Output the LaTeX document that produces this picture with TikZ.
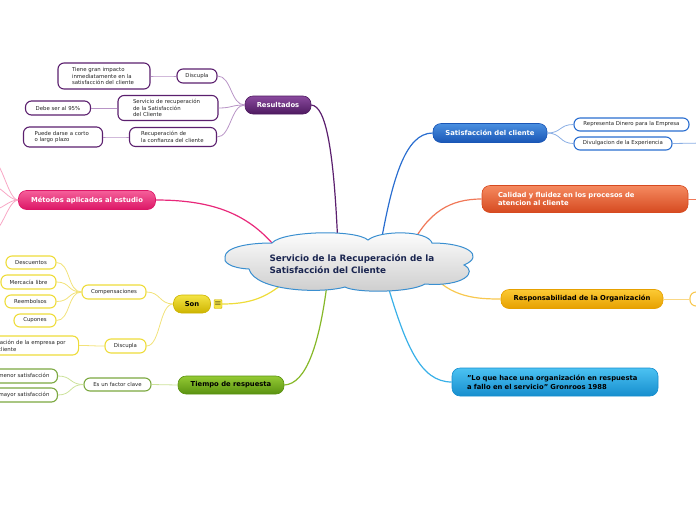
\documentclass[tikz,border=0pt]{standalone}
\usepackage{fontspec}
\setmainfont{DejaVu Sans}
\usetikzlibrary{positioning}

\definecolor{resA}{HTML}{8A4A9E}
\definecolor{resB}{HTML}{4E1A60}
\definecolor{resL}{HTML}{5B1F6E}
\definecolor{resS}{HTML}{B894C6}
\definecolor{metA}{HTML}{F5609A}
\definecolor{metB}{HTML}{DC1666}
\definecolor{metL}{HTML}{E8287A}
\definecolor{metS}{HTML}{F8A6C4}
\definecolor{sonA}{HTML}{F4E445}
\definecolor{sonB}{HTML}{CDB400}
\definecolor{sonL}{HTML}{EEDC3A}
\definecolor{sonS}{HTML}{F2E27A}
\definecolor{tieA}{HTML}{94CA34}
\definecolor{tieB}{HTML}{5A9210}
\definecolor{tieL}{HTML}{86B828}
\definecolor{tieS}{HTML}{CCE29A}
\definecolor{satA}{HTML}{4A90E0}
\definecolor{satB}{HTML}{1A56B6}
\definecolor{satL}{HTML}{2A6ED0}
\definecolor{satS}{HTML}{8AAEE4}
\definecolor{calA}{HTML}{F58A60}
\definecolor{calB}{HTML}{D64A20}
\definecolor{calL}{HTML}{F07858}
\definecolor{rspA}{HTML}{FCCA34}
\definecolor{rspB}{HTML}{E6A000}
\definecolor{rspL}{HTML}{F8C850}
\definecolor{quoA}{HTML}{4CC2F2}
\definecolor{quoB}{HTML}{168ECE}
\definecolor{quoL}{HTML}{38B0E8}
\definecolor{nube}{HTML}{3A8FD0}
\definecolor{tinta}{HTML}{1A2550}

\tikzset{
  tema/.style={rounded corners=8pt, inner xsep=0pt, inner ysep=0pt, line width=0.6pt,
    font=\fontsize{6.8}{8.8}\selectfont\bfseries, text=white},
  hoja/.style={draw, fill=white, rounded corners=6pt, line width=1.1pt, inner xsep=0pt,
    inner ysep=0pt, font=\fontsize{5.4}{6.8}\selectfont, text=black!85},
  linea/.style={line width=1.2pt},
  sublinea/.style={line width=0.8pt}
}

\newcommand{\rama}[3]{\draw[sublinea, #1] (#2.west) .. controls +(-14,0) and +(14,0) .. (#3.east);}
\newcommand{\ramader}[3]{\draw[sublinea, #1] (#2.east) .. controls +(14,0) and +(-14,0) .. (#3.west);}

\begin{document}
\begin{tikzpicture}[x=1pt, y=-1pt]
\useasboundingbox (0,0) rectangle (696,520);

% temas principales
\node[tema, minimum width=66pt, minimum height=18pt, top color=resA, bottom color=resB, draw=resB] (resultados) at (278,105) {Resultados};
\node[tema, minimum width=137pt, minimum height=19pt, top color=metA, bottom color=metB, draw=metB] (metodos) at (87,200) {Métodos aplicados al estudio};
\node[tema, minimum width=37pt, minimum height=18pt, top color=sonA, bottom color=sonB, draw=sonB, text=black] (son) at (192,304) {Son};
\node[draw=sonB, fill=sonA, minimum width=8pt, minimum height=9pt, inner sep=0pt, rounded corners=1pt, font=\fontsize{8}{8}\selectfont] (sonmenu) at (218,304) {$\equiv$};
\node[tema, minimum width=106pt, minimum height=18pt, top color=tieA, bottom color=tieB, draw=tieB, text=black] (tiempo) at (231,385) {Tiempo de respuesta};
\node[tema, minimum width=114pt, minimum height=19pt, top color=satA, bottom color=satB, draw=satB] (satisf) at (490,133) {Satisfacción del cliente};
\node[tema, minimum width=206pt, minimum height=27pt, text width=174pt, align=left, top color=calA, bottom color=calB, draw=calB] (calidad) at (585,199) {Calidad y fluidez en los procesos de\\atencion al cliente};
\node[tema, minimum width=162pt, minimum height=19pt, top color=rspA, bottom color=rspB, draw=rspB, text=black] (respons) at (582,299) {Responsabilidad de la Organización};
\node[tema, minimum width=206pt, minimum height=28pt, text width=176pt, align=left, top color=quoA, bottom color=quoB, draw=quoB, text=black] (gronroos) at (555,382) {"Lo que hace una organización en respuesta\\a fallo en el servicio" Gronroos 1988};

% Resultados
\node[hoja, draw=resL, minimum width=40pt, minimum height=14pt] (discRes) at (197,76) {Discupla};
\node[hoja, draw=resL, minimum width=100pt, minimum height=25pt, text width=70pt, align=left] (servRec) at (168,108) {Servicio de recuperación\\de la Satisfacción\\del Cliente};
\node[hoja, draw=resL, minimum width=87pt, minimum height=19pt, text width=64pt, align=left] (recConf) at (173,137) {Recuperación de\\la confianza del cliente};
\node[hoja, draw=resL, minimum width=92pt, minimum height=26pt, text width=64pt, align=left] (impacto) at (104,76) {Tiene gran impacto\\inmediatamente en la\\satisfacción del cliente};
\node[hoja, draw=resL, minimum width=65pt, minimum height=14pt] (porc) at (58,108) {Debe ser al 95\%};
\node[hoja, draw=resL, minimum width=79pt, minimum height=20pt, text width=57pt, align=left] (plazo) at (63,137) {Puede darse a corto\\o largo plazo};

% Son
\node[hoja, draw=sonL, minimum width=64pt, minimum height=14pt] (compens) at (114,292) {Compensaciones};
\node[hoja, draw=sonL, minimum width=41pt, minimum height=14pt] (discSon) at (125.5,346) {Discupla};
\node[hoja, draw=sonL, minimum width=50pt, minimum height=13pt] (descuentos) at (31,262.5) {Descuentos};
\node[hoja, draw=sonL, minimum width=55pt, minimum height=14pt] (mercancia) at (28.5,282) {Mercacía libre};
\node[hoja, draw=sonL, minimum width=51pt, minimum height=13pt] (reembolsos) at (30.5,301.5) {Reembolsos};
\node[hoja, draw=sonL, minimum width=42pt, minimum height=13pt] (cupones) at (35,320.5) {Cupones};
\node[hoja, draw=sonL, minimum height=19pt, inner xsep=6pt, text width=81pt, align=left, anchor=west] (relacion) at (-15,345.5) {Relación de la empresa por\\el cliente};

% Tiempo de respuesta
\node[hoja, draw=tieB!80, minimum width=67pt, minimum height=13pt] (factor) at (117.5,384.5) {Es un factor clave};
\node[hoja, draw=tieB!80, minimum height=14pt, inner xsep=8pt, anchor=east] (menor) at (58,376) {A mayor tiempo, menor satisfacción};
\node[hoja, draw=tieB!80, minimum height=14pt, inner xsep=8pt, anchor=east] (mayor) at (58,395) {A menor tiempo, mayor satisfacción};

% Satisfaccion del cliente
\node[hoja, draw=satL, minimum width=115pt, minimum height=13pt] (dinero) at (631.5,124.5) {Representa Dinero para la Empresa};
\node[hoja, draw=satL, minimum width=98pt, minimum height=13pt] (divulg) at (623,143.5) {Divulgacion de la Experiencia};

% ramas que salen del dibujo
\node[hoja, draw=rspL, minimum width=16pt, minimum height=14pt] (rspHijo) at (698,299) {};
\coordinate (divSig) at (705,143);
\coordinate (calSig) at (705,199);
\coordinate (met1) at (-8,160);
\coordinate (met2) at (-8,186);
\coordinate (met3) at (-8,210);
\coordinate (met4) at (-8,232);

% puntos dentro de la nube
\coordinate (cRes) at (338,248);
\coordinate (cMet) at (278,250);
\coordinate (cSon) at (292,276);
\coordinate (cTie) at (328,276);
\coordinate (cSat) at (380,248);
\coordinate (cCal) at (410,248);
\coordinate (cRsp) at (430,272);
\coordinate (cQuo) at (385,276);

% conectores principales
\draw[linea, resL] (resultados.east) .. controls (326,106) and (334,150) .. (cRes);
\draw[linea, metL] (metodos.east) .. controls (215,200) and (250,215) .. (cMet);
\draw[linea, sonL] (sonmenu.east) .. controls (258,304) and (272,293) .. (cSon);
\draw[linea, tieL] (tiempo.east) .. controls (306,384) and (320,345) .. (cTie);
\draw[linea, satL] (satisf.west) .. controls (405,133) and (392,180) .. (cSat);
\draw[linea, calL] (calidad.west) .. controls (450,199) and (428,212) .. (cCal);
\draw[linea, rspL] (respons.west) .. controls (478,299) and (450,298) .. (cRsp);
\draw[linea, quoL] (gronroos.west) .. controls (420,382) and (405,345) .. (cQuo);

% conectores secundarios
\rama{resS}{resultados}{discRes}
\rama{resS}{resultados}{servRec}
\rama{resS}{resultados}{recConf}
\rama{resS}{discRes}{impacto}
\rama{resS}{servRec}{porc}
\rama{resS}{recConf}{plazo}
\rama{sonS}{son}{compens}
\rama{sonS}{son}{discSon}
\rama{sonS}{compens}{descuentos}
\rama{sonS}{compens}{mercancia}
\rama{sonS}{compens}{reembolsos}
\rama{sonS}{compens}{cupones}
\rama{sonS}{discSon}{relacion}
\rama{tieS}{tiempo}{factor}
\rama{tieS}{factor}{menor}
\rama{tieS}{factor}{mayor}
\ramader{satS}{satisf}{dinero}
\ramader{satS}{satisf}{divulg}
\draw[sublinea, satS] (divulg.east) -- (divSig);
\draw[sublinea, calL] (calidad.east) -- (calSig);
\draw[sublinea, rspL!70] (respons.east) -- (rspHijo.west);
\foreach \m in {met1,met2,met3,met4}
  \draw[sublinea, metS] (metodos.west) .. controls +(-10,0) and +(10,0) .. (\m);

% nube central
\draw[line width=1pt, draw=nube, top color=white, bottom color=gray!40]
  (225,257) .. controls (225,248) and (245,243) .. (272,243)
  .. controls (282,231) and (355,229) .. (368,240)
  .. controls (380,230) and (428,230) .. (432,243)
  .. controls (468,243) and (485,256) .. (464,265)
  .. controls (478,272) and (464,287) .. (425,284)
  .. controls (410,293) and (355,293) .. (345,287)
  .. controls (320,294) and (255,291) .. (249,269)
  .. controls (230,268) and (223,262) .. (225,257) -- cycle;
\node[anchor=west, align=left, text=tinta, font=\fontsize{8.8}{12}\selectfont\bfseries] (centro) at (266,264) {Servicio de la Recuperación de la\\Satisfacción del Cliente};
\end{tikzpicture}
\end{document}
